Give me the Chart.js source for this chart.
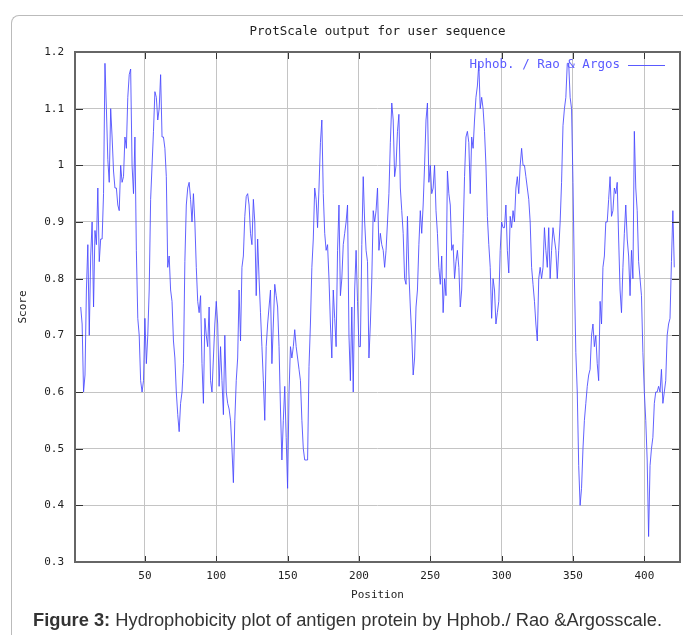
<!DOCTYPE html>
<html>
<head>
<meta charset="utf-8">
<script src="https://cdn.jsdelivr.net/npm/chart.js@4.4.1/dist/chart.umd.min.js"></script>
<style>
body { margin: 0; background: #fff; }
#wrap { position: relative; width: 683px; height: 635px; overflow: hidden; }
#frame { position: absolute; left: 11px; top: 15px; width: 800px; height: 800px; border-left: 1px solid #bbb; border-top: 1px solid #bbb; border-top-left-radius: 8px; }
#graph { position: absolute; left: 0; top: 0; }
#caption { position: absolute; left: 33px; top: 609px; font: 18.3px "Liberation Sans", Arial, sans-serif; color: #333; white-space: nowrap; }
</style>
</head>
<body>
<div id="wrap">
  <div id="frame"></div>
  <canvas id="graph" width="683" height="610"></canvas>
  <div id="caption"><b>Figure 3:</b> Hydrophobicity plot of antigen protein by Hphob./ Rao &amp;Argosscale.</div>
</div>
<script>
const canvas = document.querySelector('#graph');
const ctx = canvas.getContext('2d');

// window of 9, so the first score sits at position 5
const firstPosition = 5;
const scores = [
  0.75, 0.72, 0.60, 0.63, 0.78, 0.86, 0.70, 0.84, 0.90, 0.75, 0.885, 0.86, 0.96, 0.83, 0.87, 0.87, 0.95, 1.18, 1.10, 1.01, // 5-24
  0.97, 1.10, 1.05, 0.99, 0.96, 0.96, 0.93, 0.92, 1.00, 0.97, 0.98, 1.05, 1.03, 1.12, 1.16, 1.17, 1.00, 0.95, 1.05, 0.85, // 25-44
  0.73, 0.70, 0.62, 0.60, 0.62, 0.73, 0.65, 0.70, 0.78, 0.94, 1.00, 1.06, 1.13, 1.12, 1.08, 1.10, 1.16, 1.05, 1.05, 1.03, // 45-64
  0.98, 0.82, 0.84, 0.78, 0.76, 0.69, 0.66, 0.60, 0.56, 0.53, 0.58, 0.60, 0.65, 0.83, 0.93, 0.96, 0.97, 0.94, 0.90, 0.95, // 65-84
  0.90, 0.82, 0.76, 0.74, 0.77, 0.65, 0.58, 0.73, 0.70, 0.68, 0.75, 0.62, 0.60, 0.66, 0.72, 0.76, 0.72, 0.61, 0.68, 0.62, // 85-104
  0.56, 0.70, 0.60, 0.58, 0.57, 0.55, 0.50, 0.44, 0.55, 0.62, 0.66, 0.78, 0.69, 0.82, 0.84, 0.91, 0.945, 0.95, 0.93, 0.88, // 105-124
  0.86, 0.94, 0.90, 0.77, 0.87, 0.80, 0.74, 0.68, 0.62, 0.55, 0.68, 0.72, 0.75, 0.78, 0.65, 0.72, 0.79, 0.77, 0.75, 0.68, // 125-144
  0.57, 0.48, 0.55, 0.61, 0.52, 0.43, 0.60, 0.68, 0.66, 0.68, 0.71, 0.68, 0.66, 0.64, 0.62, 0.55, 0.50, 0.48, 0.48, 0.48, // 145-164
  0.645, 0.72, 0.82, 0.87, 0.96, 0.94, 0.89, 0.96, 1.04, 1.08, 0.95, 0.88, 0.85, 0.86, 0.80, 0.72, 0.66, 0.78, 0.73, 0.68, // 165-184
  0.85, 0.93, 0.77, 0.80, 0.86, 0.88, 0.90, 0.93, 0.70, 0.62, 0.75, 0.60, 0.78, 0.85, 0.76, 0.68, 0.68, 0.86, 0.98, 0.90, // 185-204
  0.85, 0.83, 0.66, 0.72, 0.80, 0.92, 0.90, 0.92, 0.96, 0.85, 0.88, 0.86, 0.85, 0.82, 0.85, 0.90, 0.95, 1.04, 1.11, 1.08, // 205-224
  0.98, 1.00, 1.06, 1.09, 0.96, 0.92, 0.88, 0.80, 0.79, 0.91, 0.81, 0.75, 0.70, 0.63, 0.66, 0.75, 0.78, 0.86, 0.92, 0.88, // 225-244
  0.93, 1.00, 1.08, 1.11, 0.97, 1.00, 0.95, 0.96, 1.00, 0.92, 0.88, 0.82, 0.79, 0.84, 0.74, 0.80, 0.77, 0.99, 0.95, 0.93, // 245-264
  0.85, 0.86, 0.80, 0.83, 0.85, 0.82, 0.75, 0.78, 0.88, 0.98, 1.05, 1.06, 1.04, 0.95, 1.05, 1.03, 1.08, 1.12, 1.14, 1.18, // 265-284
  1.10, 1.12, 1.10, 1.06, 1.00, 0.91, 0.86, 0.82, 0.73, 0.80, 0.78, 0.72, 0.74, 0.76, 0.85, 0.90, 0.89, 0.89, 0.93, 0.85, // 285-304
  0.81, 0.91, 0.89, 0.92, 0.90, 0.96, 0.98, 0.95, 1.00, 1.03, 1.00, 1.00, 0.98, 0.96, 0.94, 0.90, 0.82, 0.79, 0.76, 0.72, // 305-324
  0.69, 0.80, 0.82, 0.80, 0.82, 0.89, 0.85, 0.82, 0.89, 0.80, 0.85, 0.89, 0.87, 0.85, 0.80, 0.85, 0.90, 0.97, 1.07, 1.10, // 325-344
  1.12, 1.18, 1.18, 1.12, 1.10, 0.97, 0.80, 0.67, 0.60, 0.47, 0.40, 0.43, 0.50, 0.55, 0.58, 0.61, 0.63, 0.64, 0.70, 0.72, // 345-364
  0.68, 0.70, 0.65, 0.62, 0.76, 0.72, 0.82, 0.84, 0.90, 0.90, 0.94, 0.98, 0.91, 0.92, 0.96, 0.95, 0.97, 0.87, 0.78, 0.74, // 365-384
  0.82, 0.88, 0.93, 0.87, 0.84, 0.77, 0.85, 0.80, 1.06, 0.96, 0.92, 0.83, 0.80, 0.77, 0.67, 0.60, 0.55, 0.48, 0.345, 0.47, // 385-404
  0.50, 0.52, 0.58, 0.60, 0.60, 0.61, 0.60, 0.64, 0.58, 0.60, 0.62, 0.70, 0.72, 0.73, 0.83, 0.92, 0.82 // 405-421
];

const positionTicks = [50, 100, 150, 200, 250, 300, 350, 400];
const scoreTicks = [0.3, 0.4, 0.5, 0.6, 0.7, 0.8, 0.9, 1, 1.1, 1.2];
const seriesLabel = 'Hphob. / Rao & Argos';
const lineColor = 'rgba(70,70,255,0.85)';
const mono = 'DejaVu Sans Mono';

const points = scores.map((s, i) => ({x: firstPosition + i, y: s}));

// gnuplot style: inward ticks on all four sides, frame, legend inside top right
const gnuFrame = {
    id: 'gnuFrame',
    afterDraw(chart){
        const {ctx, chartArea: a, scales} = chart;
        ctx.save();
        ctx.strokeStyle = '#333';
        ctx.lineWidth = 1;
        ctx.beginPath();
        positionTicks.forEach(v => {
            const x = Math.round(scales.x.getPixelForValue(v)) + 0.5;
            ctx.moveTo(x, a.top); ctx.lineTo(x, a.top + 7);
            ctx.moveTo(x, a.bottom); ctx.lineTo(x, a.bottom - 6);
        });
        scoreTicks.forEach(v => {
            const y = Math.round(scales.y.getPixelForValue(v)) + 0.5;
            ctx.moveTo(a.left, y); ctx.lineTo(a.left + 8, y);
            ctx.moveTo(a.right, y); ctx.lineTo(a.right - 8, y);
        });
        ctx.stroke();

        ctx.strokeStyle = '#666';
        ctx.lineWidth = 2;
        ctx.strokeRect(a.left, a.top, a.right - a.left, a.bottom - a.top);

        ctx.font = '12.5px "' + mono + '"';
        ctx.fillStyle = '#5a5aff';
        ctx.textAlign = 'right';
        ctx.textBaseline = 'middle';
        ctx.fillText(seriesLabel, a.right - 60, a.top + 13);
        ctx.strokeStyle = '#5a5aff';
        ctx.lineWidth = 1;
        ctx.beginPath();
        ctx.moveTo(a.right - 52, a.top + 13.5);
        ctx.lineTo(a.right - 15, a.top + 13.5);
        ctx.stroke();
        ctx.restore();
    }
};

const tickFont = {family: mono, size: 11};

new Chart(ctx, {
    type: 'line',
    data: {
        datasets: [{
            label: seriesLabel,
            data: points,
            borderColor: lineColor,
            borderWidth: 1,
            pointRadius: 0,
            tension: 0,
            fill: false
        }]
    },
    options: {
        responsive: false,
        animation: false,
        devicePixelRatio: 1,
        layout: { padding: {left: 0, right: 3, top: 0, bottom: 0} },
        plugins: {
            legend: { display: false },
            tooltip: { enabled: false },
            title: {
                display: true,
                fullSize: false,
                text: 'ProtScale output for user sequence',
                color: '#222',
                font: {family: mono, size: 12.5, weight: 'normal'},
                padding: {top: 24, bottom: 13}
            }
        },
        scales: {
            x: {
                type: 'linear',
                min: 1,
                max: 425,
                afterBuildTicks: s => { s.ticks = positionTicks.map(v => ({value: v})); },
                afterFit: s => { s.height = 48; },
                grid: { color: '#c4c4c4', drawTicks: false },
                border: { display: false },
                ticks: { font: tickFont, color: '#222', padding: 8, maxRotation: 0, callback: v => String(v) },
                title: { display: true, text: 'Position', font: tickFont, color: '#222', padding: {top: 0, bottom: 8.4} }
            },
            y: {
                min: 0.3,
                max: 1.2,
                afterBuildTicks: s => { s.ticks = scoreTicks.map(v => ({value: v})); },
                afterFit: s => { s.width = 75; },
                grid: { color: '#c4c4c4', drawTicks: false },
                border: { display: false },
                ticks: { font: tickFont, color: '#222', padding: 11, callback: v => String(v) },
                title: { display: true, text: 'Score', font: tickFont, color: '#222', padding: {top: 16.4, bottom: 0} }
            }
        }
    },
    plugins: [gnuFrame]
});
</script>
</body>
</html>
